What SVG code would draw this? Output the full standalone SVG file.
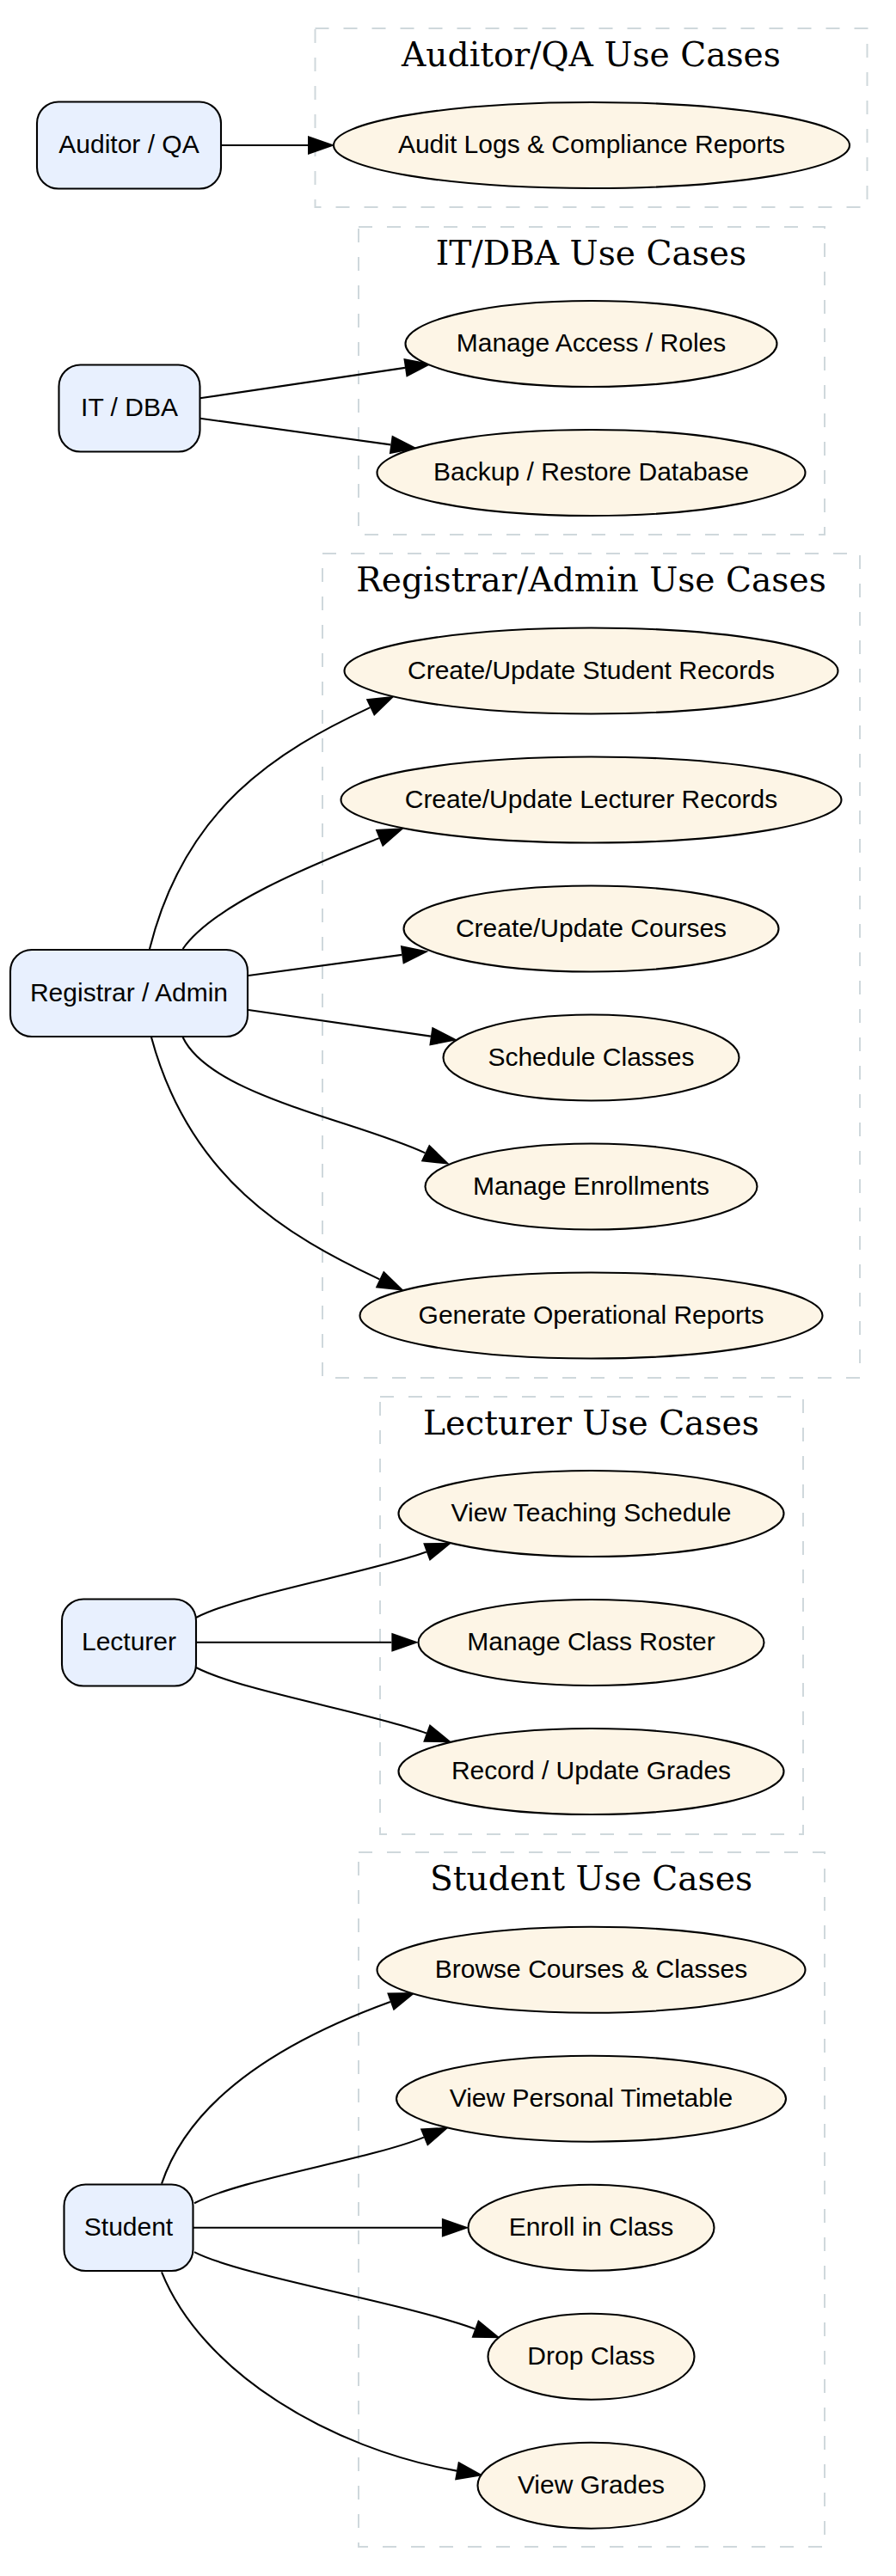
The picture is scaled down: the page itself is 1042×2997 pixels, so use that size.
<svg xmlns="http://www.w3.org/2000/svg" width="1042" height="2997" viewBox="0 0 1042 2997">
<style>
.cl{fill:none;stroke:#cfd8dc;stroke-width:2;stroke-dasharray:16,17}
.ct{font-family:"DejaVu Serif",serif;font-size:39.2px;fill:#000;text-anchor:middle}
.actor{fill:#e8f0fe;stroke:#000;stroke-width:2.1}
.uc{fill:#fdf5e6;stroke:#000;stroke-width:2.1}
.lb{font-family:"Liberation Sans",Arial,sans-serif;font-size:30px;fill:#000;text-anchor:middle}
.e{fill:none;stroke:#000;stroke-width:2.1;marker-end:url(#arr)}
</style>
<defs>
<marker id="arr" markerUnits="userSpaceOnUse" markerWidth="32" markerHeight="22" viewBox="0 0 31 21.6" refX="0" refY="10.8" orient="auto" overflow="visible">
<path d="M0,0 L31,10.8 L0,21.6 Z" fill="#000"/>
</marker>
</defs>
<rect width="1042" height="2997" fill="#fff"/>

<g id="cluster_auditor">
<rect class="cl" x="366.5" y="33" width="642" height="208"/>
<text class="ct" x="687.5" y="76.5">Auditor/QA Use Cases</text>
</g>
<g id="cluster_it">
<rect class="cl" x="417" y="264" width="542" height="358"/>
<text class="ct" x="687.5" y="307.5">IT/DBA Use Cases</text>
</g>
<g id="cluster_registrar">
<rect class="cl" x="375" y="644" width="625" height="959"/>
<text class="ct" x="687.5" y="687.5">Registrar/Admin Use Cases</text>
</g>
<g id="cluster_lecturer">
<rect class="cl" x="442" y="1625" width="492" height="509"/>
<text class="ct" x="687.5" y="1668.5">Lecturer Use Cases</text>
</g>
<g id="cluster_student">
<rect class="cl" x="417" y="2155" width="542" height="808"/>
<text class="ct" x="687.5" y="2198.5">Student Use Cases</text>
</g>

<g id="connectors">
<path class="e" d="M257,169 L358,169"/>
<path class="e" d="M232.6,463.3 L471,427.9"/>
<path class="e" d="M232.6,486.7 L454.3,517.4"/>
<path class="e" d="M174,1104 C215,940 321.7,873.9 430.4,823.1"/>
<path class="e" d="M212.6,1104 C250,1050 375.9,1001.3 440.8,975.1"/>
<path class="e" d="M289,1135 L467.3,1110.9"/>
<path class="e" d="M289,1175 L500.9,1205.6"/>
<path class="e" d="M212.6,1206.7 C245,1275 412.9,1303.3 494.4,1341.4"/>
<path class="e" d="M176,1206.7 C220,1370 332.7,1437.6 441.4,1488.4"/>
<path class="e" d="M228,1882 C280,1855 430,1829.5 495.9,1805.6"/>
<path class="e" d="M228,1910.7 L455.4,1910.7"/>
<path class="e" d="M228,1940 C280,1967 430,1992.5 495.9,2016.4"/>
<path class="e" d="M188,2540.7 C225,2430 350.5,2366.5 453.9,2328.9"/>
<path class="e" d="M226,2563.3 C280,2535 428,2512.9 492.9,2486.6"/>
<path class="e" d="M224.6,2591.7 L513.9,2591.7"/>
<path class="e" d="M226,2620.1 C280,2648 467.7,2678.6 552.3,2709.4"/>
<path class="e" d="M188,2643.3 C235,2760 383.3,2848.5 531,2874.6"/>
</g>

<g id="auditor_qa"><rect class="actor" x="43" y="118.5" width="214" height="101" rx="25"/><text class="lb" x="150" y="178">Auditor / QA</text></g>
<g id="it_dba"><rect class="actor" x="68.5" y="424.5" width="164" height="101" rx="25"/><text class="lb" x="150.5" y="484">IT / DBA</text></g>
<g id="registrar_admin"><rect class="actor" x="12" y="1105" width="276" height="101" rx="25"/><text class="lb" x="150" y="1164.5">Registrar / Admin</text></g>
<g id="lecturer"><rect class="actor" x="72" y="1860.5" width="156" height="101" rx="25"/><text class="lb" x="150" y="1920">Lecturer</text></g>
<g id="student"><rect class="actor" x="74.5" y="2541.5" width="150" height="100.5" rx="25"/><text class="lb" x="149.5" y="2601">Student</text></g>

<g id="uc_audit"><ellipse class="uc" cx="688" cy="169" rx="300" ry="50"/><text class="lb" x="688" y="178">Audit Logs &amp; Compliance Reports</text></g>
<g id="uc_access"><ellipse class="uc" cx="687.5" cy="400" rx="216" ry="50"/><text class="lb" x="687.5" y="409">Manage Access / Roles</text></g>
<g id="uc_backup"><ellipse class="uc" cx="687.5" cy="550" rx="249" ry="50"/><text class="lb" x="687.5" y="559">Backup / Restore Database</text></g>
<g id="uc_student_records"><ellipse class="uc" cx="687.5" cy="780.5" rx="287" ry="50"/><text class="lb" x="687.5" y="789.5">Create/Update Student Records</text></g>
<g id="uc_lecturer_records"><ellipse class="uc" cx="687.5" cy="930.5" rx="291" ry="50"/><text class="lb" x="687.5" y="939.5">Create/Update Lecturer Records</text></g>
<g id="uc_courses"><ellipse class="uc" cx="687.5" cy="1080.5" rx="218" ry="50"/><text class="lb" x="687.5" y="1089.5">Create/Update Courses</text></g>
<g id="uc_schedule"><ellipse class="uc" cx="687.5" cy="1230.5" rx="172" ry="50"/><text class="lb" x="687.5" y="1239.5">Schedule Classes</text></g>
<g id="uc_enrollments"><ellipse class="uc" cx="687.5" cy="1380.5" rx="193" ry="50"/><text class="lb" x="687.5" y="1389.5">Manage Enrollments</text></g>
<g id="uc_reports"><ellipse class="uc" cx="687.5" cy="1530.5" rx="269" ry="50"/><text class="lb" x="687.5" y="1539.5">Generate Operational Reports</text></g>
<g id="uc_teaching"><ellipse class="uc" cx="687.5" cy="1761" rx="224" ry="50"/><text class="lb" x="687.5" y="1770">View Teaching Schedule</text></g>
<g id="uc_roster"><ellipse class="uc" cx="687.5" cy="1911" rx="201" ry="50"/><text class="lb" x="687.5" y="1920">Manage Class Roster</text></g>
<g id="uc_grades_rec"><ellipse class="uc" cx="687.5" cy="2061" rx="224" ry="50"/><text class="lb" x="687.5" y="2070">Record / Update Grades</text></g>
<g id="uc_browse"><ellipse class="uc" cx="687.5" cy="2291.7" rx="249" ry="50"/><text class="lb" x="687.5" y="2300.7">Browse Courses &amp; Classes</text></g>
<g id="uc_timetable"><ellipse class="uc" cx="687.5" cy="2441.7" rx="226.5" ry="50"/><text class="lb" x="687.5" y="2450.7">View Personal Timetable</text></g>
<g id="uc_enroll"><ellipse class="uc" cx="687.5" cy="2591.7" rx="143" ry="50"/><text class="lb" x="687.5" y="2600.7">Enroll in Class</text></g>
<g id="uc_drop"><ellipse class="uc" cx="687.5" cy="2741.7" rx="120" ry="50"/><text class="lb" x="687.5" y="2750.7">Drop Class</text></g>
<g id="uc_view_grades"><ellipse class="uc" cx="687.5" cy="2891.7" rx="132" ry="50"/><text class="lb" x="687.5" y="2900.7">View Grades</text></g>
</svg>
